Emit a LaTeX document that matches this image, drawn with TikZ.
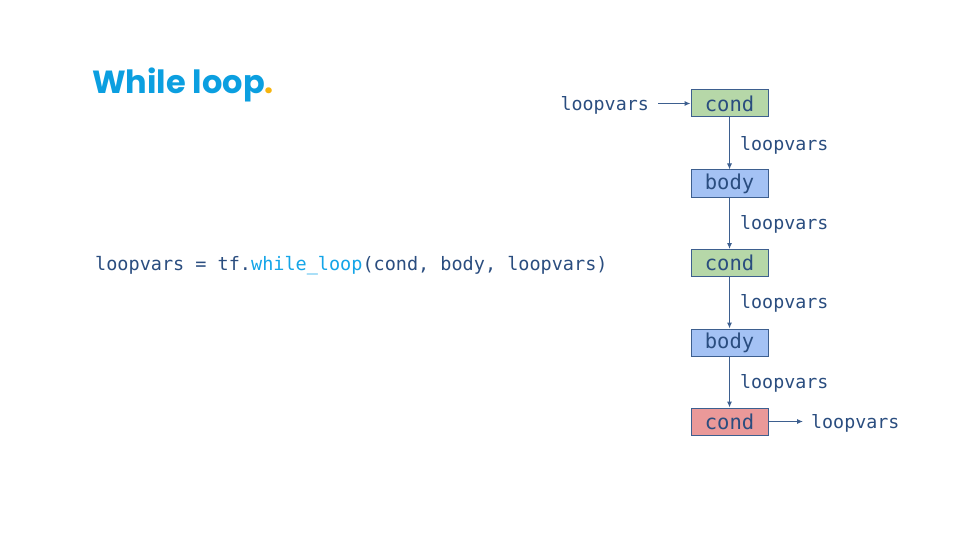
\documentclass[tikz,border=0pt]{standalone}
\usepackage{fontspec}
\setmainfont{Poppins}
\setmonofont{DejaVu Sans Mono}
\usetikzlibrary{arrows.meta}
\definecolor{ink}{HTML}{2A4D7F}
\definecolor{edge}{HTML}{3D5F8F}
\definecolor{titleblue}{HTML}{0B9FE0}
\definecolor{dotorange}{HTML}{F6B40E}
\definecolor{codeblue}{HTML}{14A5E8}
\definecolor{gfill}{HTML}{B6D7A8}
\definecolor{bfill}{HTML}{A4C2F4}
\definecolor{rfill}{HTML}{EA9999}
\tikzset{
  opbox/.style={draw=edge, line width=1pt, minimum width=77pt, minimum height=27pt, inner sep=0pt, text=ink, font=\ttfamily\fontsize{20.5}{20.5}\selectfont},
  lbl/.style={text=ink, font=\ttfamily\fontsize{18.3}{18.3}\selectfont, inner sep=0pt},
  conn/.style={draw=edge, line width=1pt, -{Latex[length=6pt,width=5pt]}},
}
\begin{document}
\begin{tikzpicture}[x=1pt,y=-1pt]
\useasboundingbox (0,0) rectangle (960,540);
\node[anchor=base west, inner sep=0pt, text=titleblue, font=\fontsize{32}{32}\selectfont\bfseries] (title) at (92,94) {While loop\textcolor{dotorange}{.}};
\node[lbl, anchor=base west, font=\ttfamily\fontsize{18.5}{18.5}\selectfont] (code) at (95,270) {loopvars = tf.\textcolor{codeblue}{while\_loop}(cond, body, loopvars)};
\node[opbox, fill=gfill] (c1) at (729.5,103.5) {cond};
\node[opbox, fill=bfill] (b1) at (729.5,183.5) {body};
\node[opbox, fill=gfill] (c2) at (729.5,263) {cond};
\node[opbox, fill=bfill] (b2) at (729.5,342.5) {body};
\node[opbox, fill=rfill] (c3) at (729.5,421.5) {cond};
\node[lbl, anchor=east] (in) at (649,105) {loopvars};
\node[lbl, anchor=west] (out) at (811,423) {loopvars};
\node[lbl, anchor=west] (l1) at (740,145.5) {loopvars};
\node[lbl, anchor=west] (l2) at (740,224.5) {loopvars};
\node[lbl, anchor=west] (l3) at (740,303.5) {loopvars};
\node[lbl, anchor=west] (l4) at (740,383.5) {loopvars};
\draw[conn, shorten <=9pt] (c1.west -| in.east) -- (c1.west);
\draw[conn] (c1) -- (b1);
\draw[conn] (b1) -- (c2);
\draw[conn] (c2) -- (b2);
\draw[conn] (b2) -- (c3);
\draw[conn, shorten >=8pt] (c3.east) -- (c3.east -| out.west);
\end{tikzpicture}
\end{document}
